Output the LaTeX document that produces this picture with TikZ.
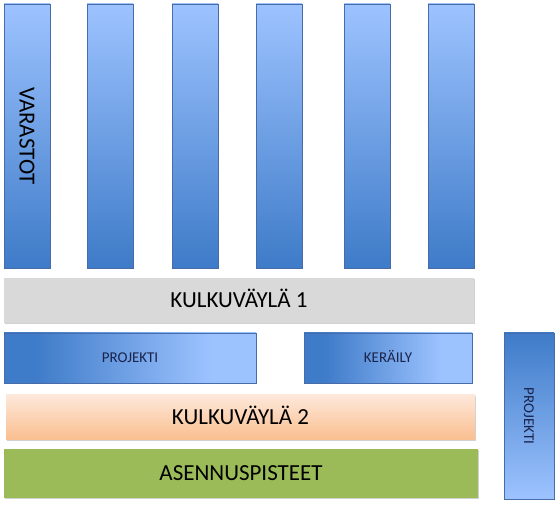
\documentclass[tikz,border=0pt]{standalone}
\usepackage{fontspec}
\setmainfont{Carlito}
\usetikzlibrary{shadows}
\definecolor{bluelight}{RGB}{157,195,255}
\definecolor{bluedark}{RGB}{62,123,200}
\definecolor{blueline}{RGB}{72,108,170}
\definecolor{aislegray}{RGB}{217,217,217}
\definecolor{peachlight}{RGB}{253,232,218}
\definecolor{peachdark}{RGB}{250,190,142}
\definecolor{mountgreen}{RGB}{155,187,89}
\definecolor{labelnavy}{RGB}{25,35,75}
\pgfdeclarehorizontalshading{zoneshade}{100bp}{color(0bp)=(bluedark); color(31bp)=(bluedark);
  color(66bp)=(bluelight); color(100bp)=(bluelight)}
\tikzset{
  box/.style={rectangle, inner sep=0pt, outer sep=0pt, anchor=north west,
    drop shadow={shadow xshift=0.8pt, shadow yshift=-1.4pt, opacity=0.3, fill=black!60}},
  shelf/.style={box, draw=blueline, line width=0.8pt, top color=bluelight, bottom color=bluedark,
    minimum width=46pt, minimum height=264pt},
  zone/.style={box, draw=blueline, line width=0.8pt, shading=zoneshade,
    minimum height=50pt},
  aisle/.style={box, minimum height=45pt},
  biglbl/.style={font=\fontsize{23}{26}\selectfont, text height=15pt, text depth=0pt},
  smalllbl/.style={font=\fontsize{15}{18}\selectfont, text=labelnavy, text height=10pt, text depth=0pt}
}
\begin{document}
\begin{tikzpicture}[x=1pt,y=1pt]
  \useasboundingbox (0,0) rectangle (560,505);
  % hyllyt
  \foreach \x [count=\i] in {4,87,172,256,344,428}
    \node[shelf] (var\i) at (\x,501) {};
  \node[biglbl, rotate=-90] (varlbl) at (var1.center) {VARASTOT};
  % kulkuväylät ja alueet
  \node[aisle, fill=aislegray, minimum width=470pt, biglbl] (aisle1) at (4,227) {KULKUVÄYLÄ 1};
  \node[zone, minimum width=252pt, smalllbl] (projA) at (4,172) {PROJEKTI};
  \node[zone, minimum width=168pt, smalllbl] (keraily) at (304,172) {KERÄILY};
  \node[box, draw=blueline, line width=0.8pt, top color=bluedark, bottom color=bluelight,
    minimum width=50pt, minimum height=166pt] (projB) at (504,172) {};
  \node[smalllbl, rotate=-90] (projBlbl) at (projB.center) {PROJEKTI};
  \node[aisle, top color=peachlight, bottom color=peachdark, minimum width=469pt, biglbl] (aisle2) at (6,110) {KULKUVÄYLÄ 2};
  \node[box, fill=mountgreen, minimum width=474pt, minimum height=49pt, biglbl] (mount) at (4,56) {ASENNUSPISTEET};
\end{tikzpicture}
\end{document}
